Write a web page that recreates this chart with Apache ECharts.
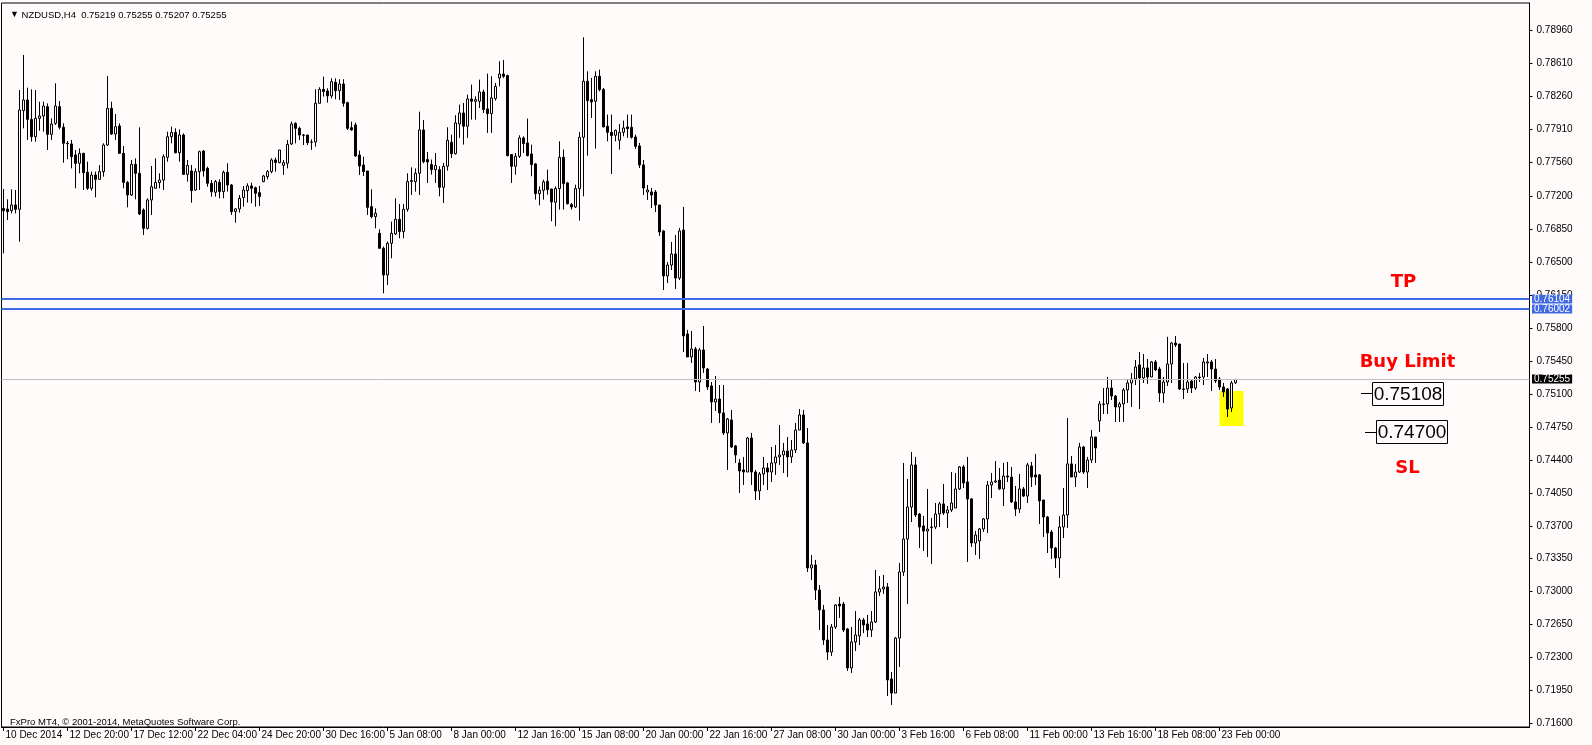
<!DOCTYPE html>
<html><head><meta charset="utf-8">
<script src="https://cdn.jsdelivr.net/npm/echarts@6/dist/echarts.min.js"></script>
<style>html,body{margin:0;padding:0;background:#fefbfa;}#c{width:1592px;height:745px;}</style>
</head><body><div id="c"></div>
<script>
const BG = '#fefbfa';
const opens = [0.77071,0.77064,0.77047,0.77107,0.77061,0.78109,0.78222,0.78016,0.77832,0.78027,0.78052,0.78151,0.77857,0.77974,0.78151,0.77932,0.77762,0.77755,0.77638,0.77549,0.77655,0.77454,0.77284,0.77425,0.77379,0.77461,0.77744,0.78133,0.77861,0.77946,0.77655,0.77347,0.77213,0.77539,0.77443,0.77054,0.76859,0.77160,0.77284,0.77344,0.77372,0.77613,0.77832,0.77878,0.77662,0.77850,0.77432,0.77468,0.77266,0.77461,0.77680,0.77496,0.77337,0.77242,0.77348,0.77249,0.77454,0.77319,0.77036,0.77065,0.77185,0.77259,0.77309,0.77291,0.77238,0.77355,0.77408,0.77461,0.77585,0.77557,0.77528,0.77550,0.77755,0.77974,0.77921,0.77850,0.77850,0.77773,0.77776,0.78187,0.78335,0.78318,0.78265,0.78410,0.78321,0.78392,0.78194,0.77928,0.77957,0.77638,0.77532,0.77468,0.77089,0.76983,0.76806,0.76647,0.76364,0.76700,0.76799,0.76955,0.76824,0.77061,0.77355,0.77355,0.77443,0.77904,0.77589,0.77536,0.77482,0.77482,0.77295,0.77518,0.77773,0.77652,0.77967,0.78084,0.77943,0.78233,0.78208,0.78208,0.78307,0.78127,0.78077,0.78237,0.78456,0.78498,0.78481,0.77642,0.77518,0.77624,0.77819,0.77766,0.77649,0.77543,0.77228,0.77263,0.77359,0.77277,0.77136,0.77281,0.77613,0.77341,0.77111,0.77086,0.77281,0.77826,0.78421,0.78226,0.78208,0.78474,0.78332,0.77943,0.77879,0.77847,0.77794,0.77879,0.77936,0.77932,0.77829,0.77734,0.77532,0.77245,0.77245,0.77245,0.77107,0.76831,0.76353,0.76469,0.76587,0.76331,0.76841,0.75737,0.75493,0.75578,0.75227,0.75567,0.75365,0.75185,0.75015,0.75046,0.74898,0.74686,0.74824,0.74548,0.74367,0.74293,0.74271,0.74632,0.74271,0.74070,0.74250,0.74314,0.74271,0.74367,0.74431,0.74452,0.74494,0.74431,0.74505,0.74717,0.74877,0.74580,0.73252,0.73284,0.73018,0.72806,0.72487,0.72359,0.72625,0.72869,0.72869,0.72604,0.72190,0.72466,0.72530,0.72700,0.72657,0.72593,0.72678,0.72997,0.73029,0.73050,0.72073,0.71924,0.72508,0.73209,0.73559,0.73899,0.74346,0.73825,0.73698,0.73644,0.73681,0.73687,0.73825,0.73932,0.73836,0.73868,0.73889,0.74091,0.74325,0.74165,0.73985,0.73517,0.73539,0.73666,0.73772,0.74133,0.74165,0.74186,0.74091,0.74229,0.74218,0.73953,0.73878,0.74091,0.74016,0.74335,0.74240,0.74240,0.73974,0.73793,0.73634,0.73464,0.73358,0.73687,0.73815,0.74357,0.74218,0.74271,0.74537,0.74271,0.74399,0.74643,0.74813,0.74994,0.74994,0.75163,0.75078,0.74962,0.74994,0.75142,0.75217,0.75259,0.75408,0.75270,0.75376,0.75280,0.75440,0.75365,0.75110,0.75227,0.75418,0.75641,0.75630,0.75153,0.75153,0.75238,0.75163,0.75280,0.75280,0.75429,0.75440,0.75365,0.75259,0.75174,0.75153,0.74951,0.75219];
const highs = [0.77277,0.77167,0.77273,0.77266,0.78328,0.78700,0.78353,0.78335,0.78328,0.78204,0.78204,0.78186,0.78027,0.78399,0.78211,0.77974,0.77786,0.77797,0.77691,0.77708,0.77662,0.77567,0.77461,0.77461,0.77531,0.77762,0.78477,0.78204,0.78073,0.77974,0.77733,0.77362,0.77585,0.77602,0.77932,0.77071,0.77177,0.77521,0.77602,0.77443,0.77645,0.77885,0.77939,0.77921,0.77910,0.77868,0.77585,0.77531,0.77496,0.77684,0.77691,0.77514,0.77372,0.77373,0.77380,0.77472,0.77550,0.77330,0.77072,0.77213,0.77309,0.77337,0.77344,0.77302,0.77309,0.77426,0.77479,0.77603,0.77610,0.77691,0.77585,0.77797,0.77992,0.77985,0.77939,0.77861,0.77850,0.77804,0.78335,0.78357,0.78470,0.78346,0.78452,0.78452,0.78442,0.78442,0.78204,0.77992,0.77981,0.77684,0.77620,0.77468,0.77273,0.77072,0.76849,0.76665,0.76718,0.76930,0.77178,0.77118,0.77118,0.77443,0.77507,0.77496,0.78098,0.78010,0.77670,0.77589,0.77659,0.77518,0.77553,0.77932,0.77854,0.78060,0.78173,0.78190,0.78279,0.78385,0.78261,0.78438,0.78332,0.78502,0.78474,0.78403,0.78633,0.78647,0.78491,0.77649,0.77659,0.77847,0.77836,0.78024,0.77748,0.77553,0.77305,0.77376,0.77482,0.77277,0.77305,0.77783,0.77695,0.77352,0.77128,0.77323,0.77883,0.78888,0.78527,0.78456,0.78527,0.78544,0.78350,0.78067,0.78067,0.77907,0.77967,0.78003,0.78067,0.78067,0.77854,0.77766,0.77585,0.77319,0.77287,0.77266,0.77107,0.76841,0.76501,0.76714,0.76788,0.76863,0.77086,0.75780,0.75769,0.75599,0.75588,0.75822,0.75376,0.75227,0.75291,0.75195,0.75195,0.74845,0.74930,0.74558,0.74410,0.74431,0.74643,0.74686,0.74293,0.74271,0.74431,0.74367,0.74537,0.74558,0.74770,0.74580,0.74643,0.74611,0.74792,0.74940,0.74930,0.74738,0.73390,0.73337,0.73071,0.72859,0.72646,0.72657,0.72869,0.72944,0.72891,0.72614,0.72625,0.72795,0.72721,0.72721,0.72753,0.72795,0.73231,0.73167,0.73178,0.73092,0.72147,0.72519,0.73305,0.74367,0.74197,0.74484,0.74431,0.73836,0.73804,0.74091,0.73783,0.73942,0.73953,0.74144,0.73910,0.74271,0.74261,0.74335,0.74346,0.74431,0.73995,0.73645,0.73677,0.73783,0.74176,0.74261,0.74388,0.74314,0.74367,0.74378,0.74325,0.74123,0.74250,0.74112,0.74367,0.74378,0.74463,0.74250,0.73974,0.73804,0.73655,0.73475,0.73804,0.74101,0.74845,0.74441,0.74357,0.74580,0.74548,0.74431,0.74717,0.74643,0.75025,0.75163,0.75280,0.75248,0.75089,0.75015,0.75163,0.75248,0.75323,0.75461,0.75546,0.75524,0.75471,0.75450,0.75461,0.75387,0.75280,0.75707,0.75652,0.75716,0.75630,0.75429,0.75429,0.75248,0.75290,0.75323,0.75482,0.75524,0.75461,0.75471,0.75280,0.75217,0.75163,0.75238,0.75255];
const lows = [0.76593,0.76947,0.77018,0.77018,0.76717,0.77921,0.77797,0.77779,0.77779,0.77896,0.77885,0.77691,0.77797,0.77956,0.77910,0.77556,0.77592,0.77496,0.77284,0.77443,0.77266,0.77266,0.77259,0.77188,0.77379,0.77408,0.77733,0.77850,0.77797,0.77655,0.77284,0.77082,0.77202,0.77167,0.77000,0.76788,0.76848,0.77000,0.77284,0.77284,0.77266,0.77567,0.77762,0.77655,0.77567,0.77425,0.77354,0.77131,0.77259,0.77266,0.77408,0.77301,0.77195,0.77196,0.77178,0.77178,0.77249,0.77001,0.76919,0.77026,0.77089,0.77132,0.77125,0.77089,0.77096,0.77348,0.77380,0.77443,0.77461,0.77550,0.77426,0.77496,0.77744,0.77762,0.77797,0.77744,0.77744,0.77691,0.77727,0.78187,0.78258,0.78194,0.78240,0.78229,0.78222,0.78151,0.77904,0.77897,0.77620,0.77426,0.77415,0.77001,0.76965,0.76859,0.76647,0.76169,0.76257,0.76541,0.76788,0.76753,0.76753,0.77036,0.77213,0.77249,0.77213,0.77550,0.77341,0.77429,0.77341,0.77199,0.77128,0.77472,0.77606,0.77642,0.77819,0.77748,0.77819,0.78013,0.78013,0.78137,0.78084,0.77872,0.77872,0.78215,0.78367,0.78456,0.77624,0.77341,0.77429,0.77606,0.77659,0.77624,0.77412,0.77164,0.77104,0.77164,0.77217,0.76934,0.76881,0.77058,0.77058,0.77111,0.77058,0.77075,0.76941,0.77199,0.77631,0.78031,0.77706,0.78314,0.77932,0.77783,0.77436,0.77783,0.77695,0.77836,0.77819,0.77812,0.77702,0.77500,0.77213,0.77160,0.77075,0.77032,0.76778,0.76204,0.76278,0.76416,0.76215,0.76310,0.75546,0.75493,0.75429,0.75132,0.75121,0.75323,0.75142,0.74792,0.74919,0.74792,0.74664,0.74293,0.74526,0.74367,0.74048,0.74133,0.74271,0.74133,0.73974,0.73974,0.74133,0.74080,0.74165,0.74240,0.74346,0.74261,0.74218,0.74367,0.74473,0.74717,0.74569,0.73209,0.73124,0.72912,0.72593,0.72434,0.72275,0.72317,0.72604,0.72721,0.72572,0.72158,0.72137,0.72370,0.72434,0.72561,0.72519,0.72519,0.72668,0.72954,0.72976,0.71892,0.71797,0.71924,0.72200,0.73167,0.72869,0.73740,0.73793,0.73464,0.73432,0.73368,0.73294,0.73665,0.73687,0.73815,0.73676,0.73847,0.73889,0.74080,0.74101,0.73316,0.73475,0.73390,0.73348,0.73634,0.73623,0.73995,0.74155,0.74080,0.73910,0.74165,0.73942,0.73804,0.73836,0.74006,0.73942,0.74112,0.74133,0.73719,0.73581,0.73411,0.73348,0.73252,0.73146,0.73570,0.73677,0.74218,0.74112,0.74261,0.74250,0.74101,0.74367,0.74367,0.74696,0.74887,0.74887,0.75036,0.74802,0.74802,0.74802,0.75004,0.74962,0.75195,0.74940,0.75217,0.75207,0.75280,0.75344,0.75015,0.75004,0.75185,0.75217,0.75599,0.75142,0.75046,0.75110,0.75110,0.75142,0.75227,0.75195,0.75280,0.75131,0.75217,0.75142,0.75068,0.74855,0.74909,0.75207];
const closes = [0.77047,0.77036,0.77107,0.77061,0.78116,0.78222,0.78016,0.77832,0.78027,0.78052,0.78158,0.77857,0.77967,0.78158,0.77932,0.77762,0.77758,0.77620,0.77549,0.77655,0.77450,0.77284,0.77425,0.77379,0.77461,0.77744,0.78133,0.77861,0.77939,0.77655,0.77347,0.77213,0.77539,0.77443,0.77011,0.76859,0.77160,0.77301,0.77347,0.77372,0.77620,0.77832,0.77878,0.77662,0.77850,0.77432,0.77528,0.77259,0.77461,0.77673,0.77468,0.77337,0.77248,0.77355,0.77249,0.77454,0.77319,0.77036,0.77065,0.77178,0.77266,0.77309,0.77284,0.77231,0.77196,0.77415,0.77461,0.77585,0.77557,0.77691,0.77557,0.77751,0.77967,0.77921,0.77850,0.77847,0.77769,0.77776,0.78187,0.78335,0.78311,0.78265,0.78417,0.78321,0.78392,0.78187,0.77921,0.77904,0.77627,0.77521,0.77461,0.77082,0.76983,0.77019,0.76647,0.76364,0.76700,0.76806,0.76955,0.76824,0.77061,0.77355,0.77366,0.77443,0.77904,0.77567,0.77564,0.77482,0.77525,0.77295,0.77518,0.77794,0.77652,0.77978,0.78084,0.77943,0.78233,0.78208,0.78226,0.78307,0.78120,0.78077,0.78244,0.78367,0.78498,0.78474,0.77631,0.77518,0.77624,0.77819,0.77759,0.77631,0.77536,0.77228,0.77263,0.77352,0.77270,0.77139,0.77281,0.77613,0.77334,0.77121,0.77086,0.77281,0.77826,0.78421,0.78215,0.78201,0.78474,0.78332,0.77936,0.77879,0.77844,0.77900,0.77879,0.77925,0.77918,0.77826,0.77730,0.77532,0.77287,0.77266,0.77213,0.77107,0.76820,0.76353,0.76469,0.76587,0.76331,0.76831,0.75716,0.75493,0.75578,0.75227,0.75567,0.75376,0.75174,0.75015,0.75046,0.74898,0.74686,0.74834,0.74537,0.74452,0.74282,0.74271,0.74632,0.74271,0.74070,0.74250,0.74314,0.74271,0.74367,0.74431,0.74452,0.74494,0.74431,0.74505,0.74717,0.74877,0.74580,0.73252,0.73284,0.73018,0.72806,0.72487,0.72359,0.72625,0.72859,0.72848,0.72593,0.72190,0.72466,0.72540,0.72700,0.72646,0.72593,0.72678,0.72997,0.73029,0.73050,0.72062,0.71924,0.72508,0.73209,0.73559,0.73899,0.74346,0.73815,0.73687,0.73644,0.73665,0.73687,0.73825,0.73932,0.73836,0.73868,0.73942,0.74091,0.74325,0.74155,0.73985,0.73517,0.73602,0.73666,0.73772,0.74133,0.74165,0.74176,0.74091,0.74229,0.74218,0.73953,0.73878,0.74091,0.74016,0.74346,0.74218,0.74218,0.73964,0.73793,0.73624,0.73464,0.73358,0.73687,0.73815,0.74357,0.74218,0.74271,0.74537,0.74271,0.74399,0.74643,0.74526,0.74994,0.74988,0.75163,0.75078,0.74962,0.74994,0.75142,0.75217,0.75259,0.75387,0.75270,0.75376,0.75280,0.75440,0.75355,0.75110,0.75227,0.75418,0.75641,0.75620,0.75153,0.75147,0.75227,0.75163,0.75280,0.75275,0.75440,0.75440,0.75365,0.75238,0.75174,0.75121,0.74940,0.75217,0.75255];
const tickLabels = ['10 Dec 2014','12 Dec 20:00','17 Dec 12:00','22 Dec 04:00','24 Dec 20:00','30 Dec 16:00','5 Jan 08:00','8 Jan 00:00','12 Jan 16:00','15 Jan 08:00','20 Jan 00:00','22 Jan 16:00','27 Jan 08:00','30 Jan 00:00','3 Feb 16:00','6 Feb 08:00','11 Feb 00:00','13 Feb 16:00','18 Feb 08:00','23 Feb 00:00'];
const TICK_EVERY = 16;
const yTicks = [0.71600,0.71950,0.72300,0.72650,0.73000,0.73350,0.73700,0.74050,0.74400,0.74750,0.75100,0.75450,0.75800,0.76150,0.76500,0.76850,0.77200,0.77560,0.77910,0.78260,0.78610,0.78960];
const levelLines = [
  {price: 0.76104, color: '#4169e1', width: 2, labelBg: '#4169e1', z: 50},
  {price: 0.76002, color: '#4169e1', width: 2, labelBg: '#4169e1', z: 50},
  {price: 0.75255, color: '#c0c0c0', width: 1, labelBg: '#000000', z: 3}
];
const Y_MIN = 0.71563, Y_MAX = 0.79252;
const SLOTS = 382;
const yellowBox = {from: 304, to: 310, top: 0.75132, bottom: 0.74760};
const notes = [
  {text: 'TP', idx: 350, price: 0.76284, kind: 'red'},
  {text: 'Buy Limit', idx: 351, price: 0.75434, kind: 'red'},
  {text: 'SL', idx: 351, price: 0.74309, kind: 'red'},
  {text: '0.75108', idx: 351, price: 0.75108, kind: 'box'},
  {text: '0.74700', idx: 352, price: 0.74700, kind: 'box'}
];

function pad(n){return (n<10?'0':'')+n;}
function buildTimes(n){
  const out=[]; let t=Date.UTC(2014,11,10,4);
  const skip=d=>{const wd=d.getUTCDay(); if(wd===0||wd===6) return true;
    const m=d.getUTCMonth(), day=d.getUTCDate(), h=d.getUTCHours();
    if(m===11&&day===25) return true; if(m===11&&day===26&&h===0) return true;
    if(m===0&&day===1) return true; return false;};
  while(out.length<n){const d=new Date(t); if(!skip(d)) out.push(d.getUTCFullYear()+'.'+pad(d.getUTCMonth()+1)+'.'+pad(d.getUTCDate())+' '+pad(d.getUTCHours())+':00'); t+=4*3600*1000;}
  return out;
}
const cats = buildTimes(SLOTS);
const data = opens.map((o,i)=>[o, closes[i], lows[i], highs[i]]);
const showTick = i => i % TICK_EVERY === 0 && (i / TICK_EVERY) < tickLabels.length;
const FONT = 'Liberation Sans';

const chart = echarts.init(document.getElementById('c'), null, {renderer:'canvas'});
chart.setOption({
  animation: false,
  backgroundColor: BG,
  title: [
    {text: '{a|▼} NZDUSD,H4  0.75219 0.75255 0.75207 0.75255', left: 5, top: 5,
     textStyle: {fontSize: 9.5, fontWeight: 'normal', color: '#000', fontFamily: FONT,
       rich: {a: {fontSize: 9, color: '#000'}}}},
    {text: 'FxPro MT4, © 2001-2014, MetaQuotes Software Corp.', left: 5, top: 712,
     textStyle: {fontSize: 9.5, fontWeight: 'normal', color: '#000', fontFamily: FONT}}
  ],
  grid: {left: 1.5, right: 62.5, top: 3, bottom: 18, show: true, borderColor: '#000', borderWidth: 1, containLabel: false},
  xAxis: {
    type: 'category', data: cats, boundaryGap: true,
    axisLine: {show: true, lineStyle: {color: '#000', width: 1}},
    axisTick: {show: true, alignWithLabel: true, interval: showTick, length: 4, lineStyle: {color: '#000'}},
    axisLabel: {show: true, interval: showTick, align: 'left', margin: 3, padding: [0,0,0,2],
      fontSize: 10, color: '#000', fontFamily: FONT,
      formatter: (v, i) => tickLabels[Math.round(i / TICK_EVERY)] || ''},
    splitLine: {show: false}
  },
  yAxis: {
    type: 'value', position: 'right', min: Y_MIN, max: Y_MAX, scale: true,
    axisLine: {show: true, lineStyle: {color: '#000', width: 1}},
    axisTick: {show: true, length: 3, customValues: yTicks, lineStyle: {color: '#000'}},
    axisLabel: {show: true, customValues: yTicks, margin: 7, fontSize: 10, color: '#000', fontFamily: FONT,
      formatter: v => v.toFixed(5)},
    splitLine: {show: false}
  },
  series: [{
    type: 'candlestick', data: data, barWidth: 3,
    itemStyle: {color: BG, color0: '#000', borderColor: '#000', borderColor0: '#000', borderWidth: 1},
    markArea: {silent: true, data: [[
      {coord: [cats[yellowBox.from], yellowBox.top], itemStyle: {color: '#ffff00', opacity: 1}},
      {coord: [cats[yellowBox.to], yellowBox.bottom]}
    ]]}
  }]
});

// level lines, labels and annotations placed through the chart's own coordinate conversion
const els = [];
const halfBand = (chart.convertToPixel({xAxisIndex: 0}, cats[1]) - chart.convertToPixel({xAxisIndex: 0}, cats[0])) / 2;
const xLeft = chart.convertToPixel({xAxisIndex: 0}, cats[0]) - halfBand;
const xRight = chart.convertToPixel({xAxisIndex: 0}, cats[SLOTS - 1]) + halfBand;
levelLines.forEach(l => {
  const y = chart.convertToPixel({yAxisIndex: 0}, l.price);
  const yy = l.width % 2 ? Math.round(y - 0.5) + 0.5 : Math.round(y);
  els.push({type: 'line', z: l.z, silent: true, shape: {x1: xLeft, y1: yy, x2: xRight, y2: yy},
    style: {stroke: l.color, lineWidth: l.width}});
  els.push({type: 'text', z: 60, silent: true, x: Math.round(xRight) + 2, y: Math.round(y),
    style: {text: l.price.toFixed(5), fill: '#fff', backgroundColor: l.labelBg, padding: [0, 2, 0, 2],
      font: '10px "Liberation Sans"', lineHeight: 9, textVerticalAlign: 'middle', textAlign: 'left'}});
});

const ctx = document.createElement('canvas').getContext('2d');
const BOX_FONT = 19;
ctx.font = BOX_FONT + 'px "Liberation Sans"';
notes.forEach(n => {
  const pt = chart.convertToPixel({gridIndex: 0}, [cats[n.idx], n.price]);
  if (n.kind === 'red') {
    els.push({type: 'text', x: pt[0], y: pt[1], z: 100,
      style: {text: n.text, fill: '#ff0000', font: 'bold 18px "DejaVu Sans"', textAlign: 'center', textVerticalAlign: 'middle'}});
  } else {
    const w = Math.round(ctx.measureText(n.text).width + 2);
    const h = 23;
    const left = Math.round(pt[0] - w / 2), top = Math.round(pt[1] - h / 2);
    els.push({type: 'rect', z: 100, shape: {x: left + 0.5, y: top + 0.5, width: w, height: h},
      style: {fill: BG, stroke: '#000', lineWidth: 1}});
    els.push({type: 'text', z: 101, x: left + w / 2 + 0.5, y: top + h / 2 + 1,
      style: {text: n.text, fill: '#000', font: BOX_FONT + 'px "Liberation Sans"', textAlign: 'center', textVerticalAlign: 'middle'}});
    const ly = Math.round(pt[1]) + 0.5;
    els.push({type: 'line', z: 100, shape: {x1: left - 11, y1: ly, x2: left, y2: ly}, style: {stroke: '#000', lineWidth: 1}});
  }
});
chart.setOption({graphic: els});
</script>
</body></html>
